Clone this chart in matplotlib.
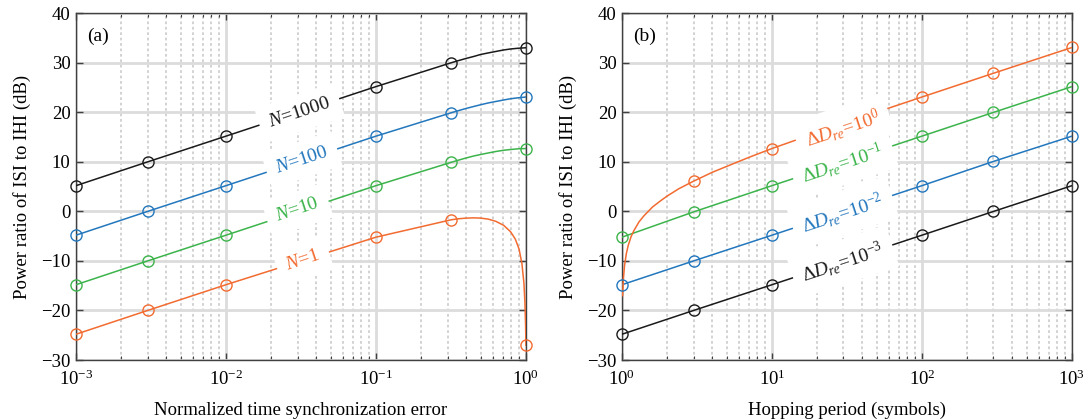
import matplotlib
matplotlib.use("Agg")
import matplotlib.pyplot as plt
from matplotlib.ticker import LogLocator, NullFormatter, MultipleLocator

plt.rcParams['font.family'] = ['Liberation Serif', 'DejaVu Serif']
plt.rcParams['mathtext.fontset'] = 'custom'
plt.rcParams['mathtext.rm'] = 'Liberation Serif'
plt.rcParams['mathtext.it'] = 'Liberation Serif:italic'
plt.rcParams['mathtext.bf'] = 'Liberation Serif:bold'

BLACK = '#1a1a1a'
BLUE = '#2377bd'
GREEN = '#3cb44b'
ORANGE = '#f26b30'

# ---- (a) power ratio vs normalized time sync error ----
err_marks = [1e-3, 3e-3, 1e-2, 0.1, 0.316, 1.0]
err_x = [1e-3, 3e-3, 1e-2, 0.1, 0.316, 0.35, 0.4, 0.45, 0.5, 0.56, 0.63,
         0.71, 0.79, 0.89, 1.0]
n1000_y = [5.2, 10.0, 15.2, 25.2, 30.0, 30.4, 30.9, 31.3, 31.7, 32.0, 32.3,
           32.6, 32.8, 32.95, 33.05]
n100_y = [-4.8, 0.0, 5.2, 15.2, 19.9, 20.3, 20.8, 21.2, 21.55, 21.9, 22.2,
          22.5, 22.75, 22.95, 23.1]
n10_y = [-14.8, -10.0, -4.8, 5.2, 9.9, 10.3, 10.8, 11.2, 11.5, 11.8, 12.1,
         12.35, 12.5, 12.65, 12.7]
n1_x = [1e-3, 3e-3, 1e-2, 0.1, 0.316, 0.35, 0.4, 0.45, 0.5, 0.56, 0.63,
        0.71, 0.79, 0.85, 0.9, 0.94, 0.97, 0.985, 0.995, 1.0]
n1_y = [-24.8, -20.0, -14.8, -5.2, -1.7, -1.5, -1.35, -1.3, -1.35, -1.55,
        -2.0, -2.8, -4.1, -5.6, -7.6, -10.5, -14.5, -18.5, -23.0, -27.0]
n1000_m = [5.2, 10.0, 15.2, 25.2, 30.0, 33.05]
n100_m = [-4.8, 0.0, 5.2, 15.2, 19.9, 23.1]
n10_m = [-14.8, -10.0, -4.8, 5.2, 9.9, 12.7]
n1_m = [-24.8, -20.0, -14.8, -5.2, -1.7, -27.0]

# ---- (b) power ratio vs hopping period ----
hop_marks = [1, 3, 10, 100, 300, 1000]
d3_y = [-24.8, -20.0, -14.8, -4.8, 0.0, 5.2]
d2_y = [-14.8, -10.0, -4.8, 5.2, 10.1, 15.2]
d1_y = [-5.2, -0.1, 5.2, 15.2, 20.0, 25.2]
d0_x = [1.01, 1.02, 1.04, 1.07, 1.1, 1.15, 1.2, 1.3, 1.4, 1.6, 1.8, 2.0,
        2.4, 3, 4, 5, 7, 10, 30, 100, 300, 1000]
d0_y = [-17.0, -14.0, -11.0, -8.5, -6.9, -5.1, -3.9, -2.1, -0.9, 0.9, 2.1,
        3.1, 4.6, 6.1, 7.9, 9.1, 10.9, 12.7, 17.8, 23.1, 27.9, 33.1]
d0_mx = [3, 10, 100, 300, 1000]
d0_my = [6.1, 12.7, 23.1, 27.9, 33.1]

fig = plt.figure(figsize=(10.9, 4.19), dpi=100)
ax_a = fig.add_axes([0.0697, 0.1408, 0.4128, 0.8274])
ax_b = fig.add_axes([0.5706, 0.1408, 0.4128, 0.8274])


def style_axes(ax, xlim):
    ax.set_xscale('log')
    ax.set_xlim(xlim)
    ax.set_ylim(-30, 40)
    ax.yaxis.set_major_locator(MultipleLocator(10))
    ax.xaxis.set_major_locator(LogLocator(base=10, numticks=10))
    ax.xaxis.set_minor_locator(LogLocator(base=10, subs=range(2, 10), numticks=20))
    ax.xaxis.set_minor_formatter(NullFormatter())
    ax.grid(True, which='major', color='#dcdcdc', lw=2.0, ls='-', zorder=0)
    ax.grid(True, which='minor', axis='x', color='#cfcfcf', lw=1.3, ls=(0, (1.5, 1.5)), zorder=0)
    ax.set_axisbelow(True)
    ax.tick_params(which='both', direction='in', top=True, right=True,
                   colors='#404040', labelcolor='black', labelsize=13.5)
    ax.tick_params(which='major', length=5, width=1)
    ax.tick_params(axis='y', which='major', pad=4)
    ax.tick_params(axis='x', which='major', pad=7)
    ax.tick_params(which='minor', length=3, width=0.8)
    for sp in ax.spines.values():
        sp.set_color('#404040')
        sp.set_linewidth(1.0)
    ax.set_ylabel('Power ratio of ISI to IHI (dB)', fontsize=13.5, labelpad=7)


def curve(ax, x, y, mx, my, color):
    ax.plot(x, y, color=color, lw=1.1, zorder=3)
    ax.plot(mx, my, ls='none', marker='o', ms=8, mfc='none', mec=color,
            mew=1.0, clip_on=False, zorder=4)


def label(ax, x, y, s, color):
    ax.text(x, y, s, color=color, fontsize=14, rotation=18.3,
            rotation_mode='anchor', ha='center', va='center', zorder=6,
            bbox=dict(boxstyle='square,pad=0.5', fc='white', ec='none'))


style_axes(ax_a, (1e-3, 1.0))
curve(ax_a, err_x, n1000_y, err_marks, n1000_m, BLACK)
curve(ax_a, err_x, n100_y, err_marks, n100_m, BLUE)
curve(ax_a, err_x, n10_y, err_marks, n10_m, GREEN)
curve(ax_a, n1_x, n1_y, err_marks, n1_m, ORANGE)
label(ax_a, 0.031, 19.9, r'$N$=1000', BLACK)
label(ax_a, 0.032, 10.4, r'$N$=100', BLUE)
label(ax_a, 0.030, 0.3, r'$N$=10', GREEN)
label(ax_a, 0.0326, -9.8, r'$N$=1', ORANGE)
ax_a.text(0.025, 0.96, '(a)', transform=ax_a.transAxes, fontsize=14,
          ha='left', va='top')
ax_a.set_xlabel('Normalized time synchronization error', fontsize=13.5, labelpad=9)

style_axes(ax_b, (1, 1000))
curve(ax_b, hop_marks, d3_y, hop_marks, d3_y, BLACK)
curve(ax_b, hop_marks, d2_y, hop_marks, d2_y, BLUE)
curve(ax_b, hop_marks, d1_y, hop_marks, d1_y, GREEN)
curve(ax_b, d0_x, d0_y, d0_mx, d0_my, ORANGE)
label(ax_b, 29.7, 16.8, r'$\Delta D_{re}$=10$^{0}$', ORANGE)
label(ax_b, 29.7, 9.8, r'$\Delta D_{re}$=10$^{-1}$', GREEN)
label(ax_b, 29.7, -0.3, r'$\Delta D_{re}$=10$^{-2}$', BLUE)
label(ax_b, 29.7, -10.2, r'$\Delta D_{re}$=10$^{-3}$', BLACK)
ax_b.text(0.025, 0.96, '(b)', transform=ax_b.transAxes, fontsize=14,
          ha='left', va='top')
ax_b.set_xlabel('Hopping period (symbols)', fontsize=13.5, labelpad=9)

fig.savefig('out.png', dpi=100)
